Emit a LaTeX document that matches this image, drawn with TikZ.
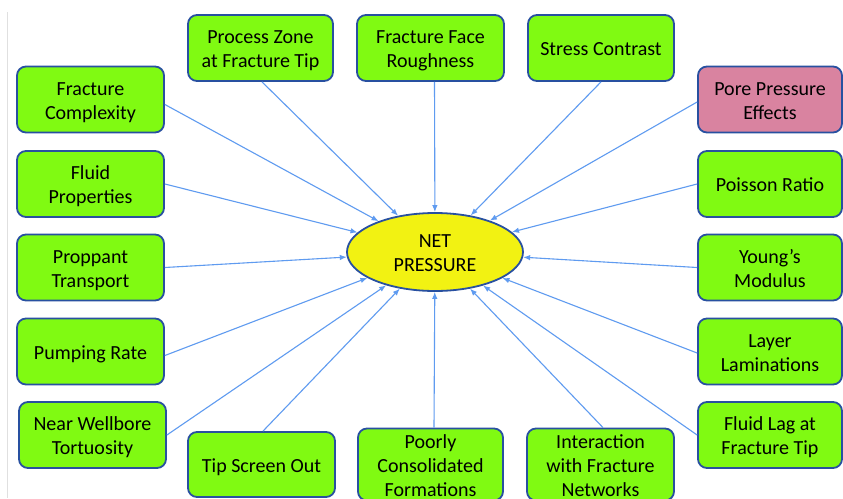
\documentclass[tikz,border=0pt]{standalone}
\usepackage{fontspec}
\setmainfont{Carlito}
\usetikzlibrary{shapes.geometric,arrows.meta}

\definecolor{boxgreen}{RGB}{128,250,18}
\definecolor{boxpink}{RGB}{217,131,160}
\definecolor{edgeblue}{RGB}{40,80,160}
\definecolor{arrowblue}{RGB}{95,155,240}
\definecolor{coreyellow}{RGB}{242,242,18}

% fixed line boxes so every label sits at the same height
\newcommand\hi{\rule{0pt}{19.5pt}}
\newcommand\lo{\rule[-4.5pt]{0pt}{4.5pt}}

\tikzset{
  boxtext/.style={align=center, font=\fontsize{20pt}{24pt}\selectfont},
  factor/.style={boxtext, draw=edgeblue, line width=1.8pt, fill=boxgreen, rounded corners=9pt,
    minimum width=145pt, minimum height=66pt, inner sep=0pt},
  highlight/.style={factor, fill=boxpink},
  core/.style={boxtext, ellipse, draw=edgeblue, line width=1.8pt, fill=coreyellow,
    minimum width=176pt, minimum height=78pt, inner sep=0pt},
  feed/.style={draw=arrowblue, line width=1.1pt, -{Latex[length=7pt,width=5.5pt]}}
}

\begin{document}
\begin{tikzpicture}[x=1pt,y=-1pt]
  \useasboundingbox (0,0) rectangle (843,498);
  \fill[white] (0,0) rectangle (843,498);
  % thin frame line along the left side
  \draw[black!12, line width=0.8pt] (7.5,12) -- (7.5,498);

  % central node
  \node[core] (e) at (435,252) {\hi NET\\PRESSURE\lo};

  % left column
  \node[factor, minimum width=147pt] (fc) at (90.5,99.5) {\hi Fracture\\Complexity\lo};
  \node[factor, minimum width=147pt] (fp) at (90.5,184) {\hi Fluid\\Properties\lo};
  \node[factor, minimum width=147pt] (pt) at (90.5,267.5) {\hi Proppant\\Transport\lo};
  \node[factor, minimum width=147pt] (pr) at (90.5,351.5) {\hi Pumping Rate\lo};
  \node[factor, minimum width=147pt] (nw) at (92.5,435) {\hi Near Wellbore\\Tortuosity\lo};

  % top row
  \node[factor] (pz) at (260.5,48) {\hi Process Zone\\at Fracture Tip\lo};
  \node[factor, minimum width=147pt] (ff) at (430.5,48) {\hi Fracture Face\\Roughness\lo};
  \node[factor, minimum width=146pt] (sc) at (601,48) {\hi Stress Contrast\lo};

  % right column
  \node[highlight, minimum width=144pt] (pp) at (770,99.5) {\hi Pore Pressure\\Effects\lo};
  \node[factor, minimum width=144pt] (po) at (770,184) {\hi Poisson Ratio\lo};
  \node[factor, minimum width=144pt] (ym) at (770,267.5) {\hi Young’s\\Modulus\lo};
  \node[factor, minimum width=144pt] (ll) at (770,351.5) {\hi Layer\\Laminations\lo};
  \node[factor, minimum width=144pt] (fl) at (770,435) {\hi Fluid Lag at\\Fracture Tip\lo};

  % bottom row
  \node[factor, minimum width=147pt, minimum height=65pt] (ts) at (261.5,464.5) {\hi Tip Screen Out\lo};
  \node[factor, minimum width=145pt, minimum height=65pt] (pc) at (430.5,464.5) {\hi Poorly\\Consolidated\\Formations\lo};
  \node[factor, minimum width=147pt, minimum height=65pt] (iw) at (600.5,464.5) {\hi Interaction\\with Fracture\\Networks\lo};

  % connectors into the central node
  \draw[feed] ([yshift=-5pt]fc.east) -- (e);
  \draw[feed] (fp.east) -- (e);
  \draw[feed] (pt.east) -- (e);
  \draw[feed] ([yshift=-4pt]pr.east) -- (e);
  \draw[feed] (nw.east) -- (e);

  \draw[feed] ([xshift=1.5pt]pz.south) -- (e);
  \draw[feed] ([xshift=4pt]ff.south) -- (e);
  \draw[feed] (sc.south) -- (e);

  \draw[feed] ([yshift=-2.5pt]pp.west) -- (e);
  \draw[feed] (po.west) -- (e);
  \draw[feed] (ym.west) -- (e);
  \draw[feed] ([yshift=-1.5pt]ll.west) -- (e);
  \draw[feed] (fl.west) -- (e);

  \draw[feed] ([xshift=1.5pt]ts.north) -- (e);
  \draw[feed] ([xshift=3.5pt]pc.north) -- (e);
  \draw[feed] ([xshift=2.5pt]iw.north) -- (e);
\end{tikzpicture}
\end{document}
